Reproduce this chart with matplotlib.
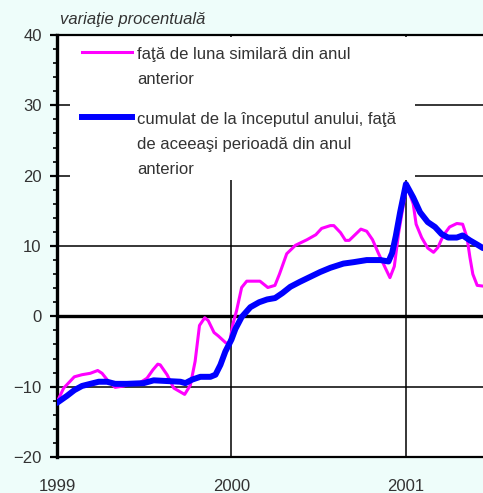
import numpy as np
import matplotlib.pyplot as plt
from matplotlib.patches import Rectangle

# positions in months from Jan 1999
luna_m = [0, 0.46, 0.69, 1.19, 1.72, 2.29, 2.8, 3.1, 3.56, 4.0, 4.6, 5.16, 5.73,
          6.19, 6.6, 6.93, 7.1, 7.57, 8.03, 8.78, 9.17, 9.5, 9.8, 10.16, 10.4,
          10.8, 11.1, 11.6, 11.85, 12.1, 12.35, 12.7, 13.05, 13.96, 14.5, 14.99,
          15.3, 15.8, 16.4, 17.2, 17.8, 18.2, 18.8, 19.04, 19.5, 19.84, 20.1,
          20.4, 20.9, 21.3, 21.7, 22.1, 22.6, 22.9, 23.2, 23.5, 23.85, 24.05,
          24.5, 24.7, 25.08, 25.5, 25.9, 26.2, 26.57, 27.0, 27.5, 27.9, 28.2,
          28.4, 28.6, 28.9, 29.3]
luna_v = [-12.2, -10.2, -9.7, -8.6, -8.3, -8.1, -7.7, -8.1, -9.3, -10.1, -9.9,
          -9.5, -9.4, -8.8, -7.6, -6.8, -6.9, -8.3, -10.2, -11.1, -9.8, -6.4,
          -1.3, -0.2, -0.6, -2.3, -2.8, -3.75, -3.9, -1.1, 0.8, 4.1, 5.0, 5.0,
          4.1, 4.4, 6.0, 8.9, 10.1, 10.9, 11.6, 12.5, 12.9, 12.9, 11.9, 10.8,
          10.8, 11.4, 12.4, 12.1, 10.9, 9.0, 6.8, 5.5, 7.1, 11.9, 16.2, 18.6,
          16.0, 13.1, 11.2, 9.7, 9.1, 9.8, 11.5, 12.7, 13.2, 13.1, 11.2, 8.4,
          6.0, 4.4, 4.3]

cum_m = [0, 0.69, 1.19, 1.72, 2.29, 2.87, 3.44, 4.0, 4.8, 5.96, 6.65, 7.57,
         8.49, 8.83, 9.29, 9.86, 10.55, 10.9, 11.24, 11.58, 12.0, 12.27, 12.7,
         13.3, 13.9, 14.45, 15.0, 15.5, 16.05, 16.7, 17.4, 18.1, 18.8, 19.7,
         20.4, 21.3, 22.25, 22.8, 23.05, 23.3, 23.6, 24.0, 24.5, 24.97, 25.5,
         26.0, 26.45, 26.9, 27.5, 27.9, 28.4, 28.9, 29.3]
cum_v = [-12.3, -11.3, -10.5, -9.9, -9.6, -9.3, -9.3, -9.6, -9.6, -9.5, -9.1,
         -9.2, -9.3, -9.5, -9.0, -8.6, -8.6, -8.3, -6.9, -5.0, -3.3, -1.8, -0.1,
         1.3, 2.0, 2.4, 2.6, 3.3, 4.2, 4.9, 5.6, 6.3, 6.9, 7.5, 7.7, 8.0, 8.0,
         7.8, 9.0, 11.4, 14.8, 18.8, 16.9, 14.8, 13.4, 12.7, 11.7, 11.2, 11.2,
         11.5, 10.8, 10.2, 9.7]

ani = [1999, 2000, 2001]
lbl_luna = 'faţă de luna similară din anul\nanterior'
lbl_cum = 'cumulat de la începutul anului, faţă\nde aceeaşi perioadă din anul\nanterior'

x_luna = 1999 + np.array(luna_m) / 12
x_cum = 1999 + np.array(cum_m) / 12

bg = '#EEFDFA'
txt = '#333333'
plt.rcParams['font.family'] = ['Liberation Sans', 'DejaVu Sans']

fig = plt.figure(figsize=(4.83, 4.93), dpi=100, facecolor=bg)
ax = fig.add_axes([57/483, 36/493, 426/483, 422/493])
ax.set_facecolor('white')

ax.set_xlim(1999, 1999 + 29.3/12)
ax.set_ylim(-20, 40)

# grid
for y in [-10, 10, 20, 30]:
    ax.axhline(y, color='black', lw=1.1, zorder=1)
ax.axhline(0, color='black', lw=2.4, zorder=1)
for x in ani[1:]:
    ax.axvline(x, color='black', lw=1.1, zorder=1)

ax.plot(x_luna, luna_v, color='#FF00FF', lw=2.2, zorder=3, solid_capstyle='round')
ax.plot(x_cum, cum_v, color='#0000FF', lw=4.3, zorder=4, solid_capstyle='round')

ax.spines['right'].set_visible(False)
ax.spines['left'].set_linewidth(2.4)
ax.spines['top'].set_linewidth(1.6)
ax.spines['bottom'].set_linewidth(1.6)

ax.set_yticks(range(-20, 41, 10))
ax.set_yticks(range(-20, 41, 2), minor=True)
ax.tick_params(axis='y', which='major', length=5, width=1.6, pad=6,
               labelsize=12, labelcolor=txt)
ax.tick_params(axis='y', which='minor', length=3, width=1.2)
ax.set_xticks(ani)
ax.set_xticklabels([str(a) for a in ani])
ax.tick_params(axis='x', length=0, pad=16, labelsize=12, labelcolor=txt)

# legend block
ax.add_patch(Rectangle((0.03, 0.656), 0.81, 0.34, transform=ax.transAxes,
                       facecolor='white', edgecolor='none', zorder=5))
ax.plot([0.059, 0.176], [0.960, 0.960], transform=ax.transAxes,
        color='#FF00FF', lw=2.2, zorder=6)
ax.plot([0.059, 0.176], [0.806, 0.806], transform=ax.transAxes,
        color='#0000FF', lw=4.3, zorder=6)
ax.text(0.188, 0.971, lbl_luna, transform=ax.transAxes, fontsize=12,
        color=txt, va='top', ha='left', linespacing=1.85, zorder=7)
ax.text(0.188, 0.818, lbl_cum, transform=ax.transAxes, fontsize=12,
        color=txt, va='top', ha='left', linespacing=1.85, zorder=7)

ax.text(0.007, 1.018, 'variaţie procentuală', transform=ax.transAxes,
        fontsize=12, style='italic', color=txt, va='bottom', ha='left')

fig.savefig('out.png', dpi=100, facecolor=bg)
